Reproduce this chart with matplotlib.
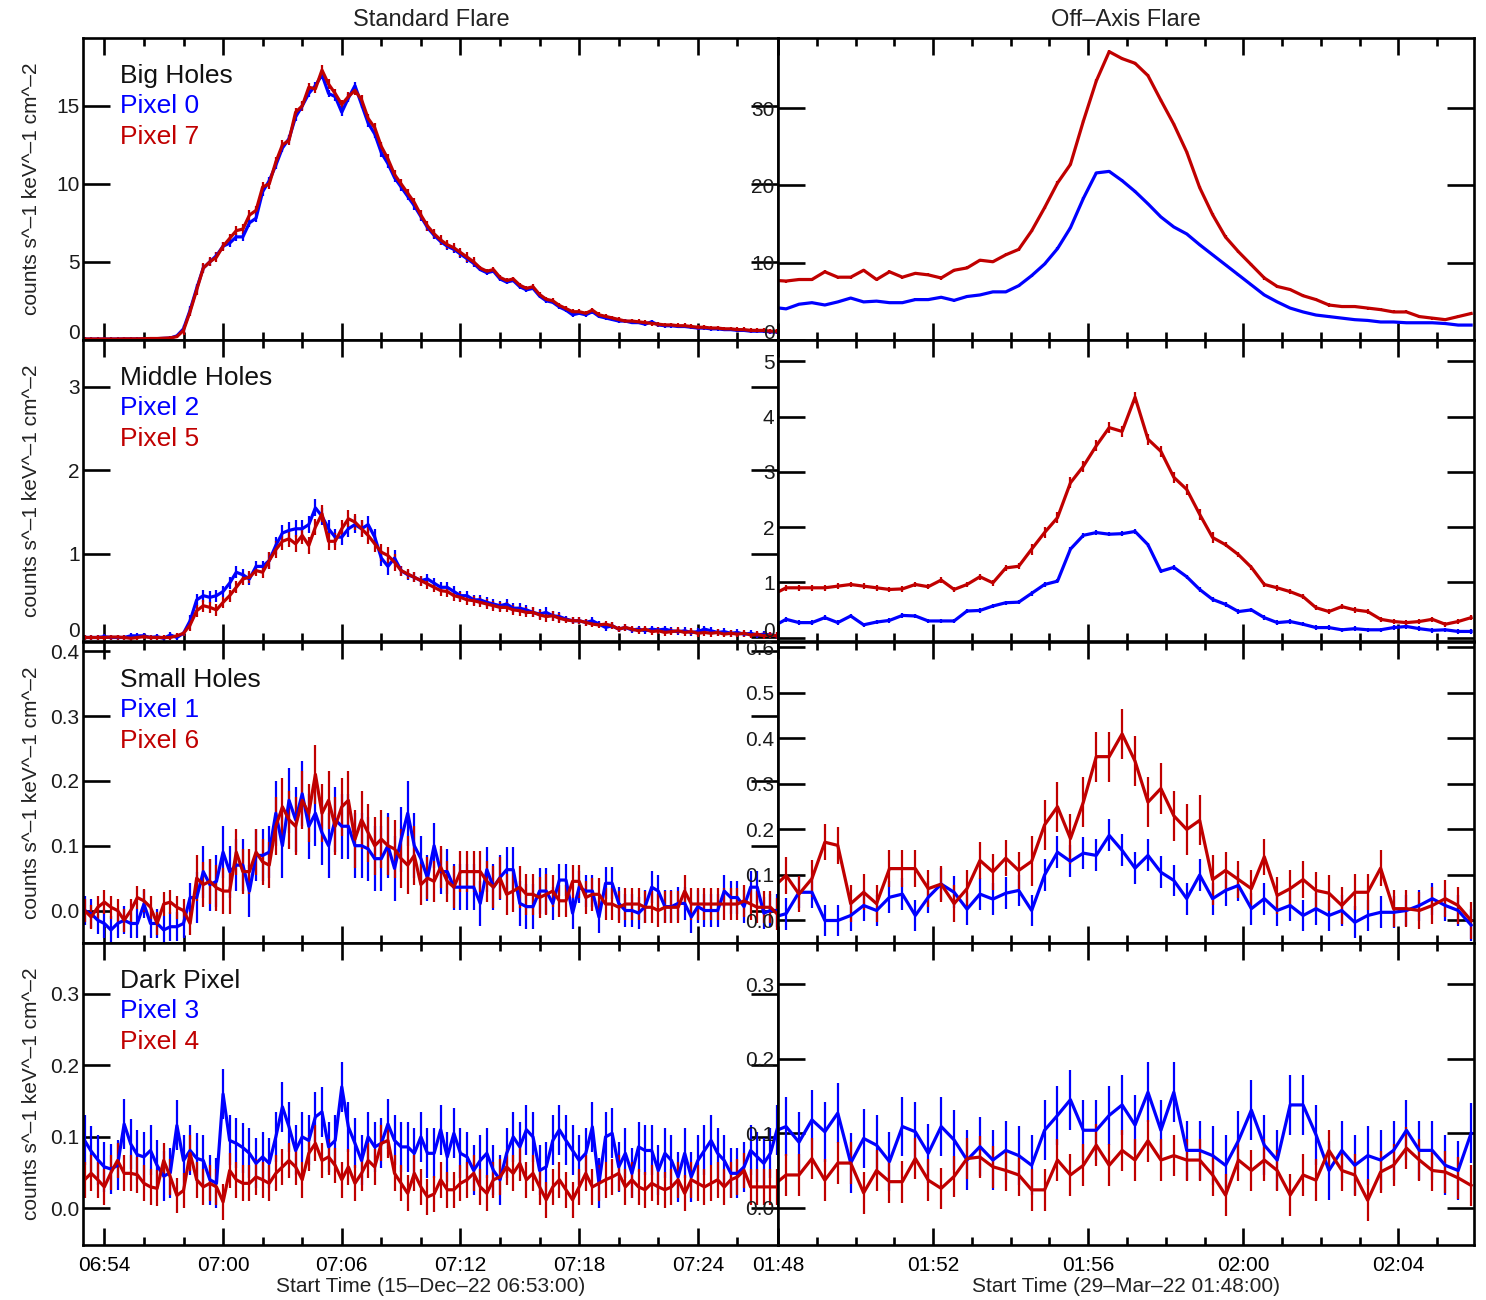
import numpy as np
import matplotlib
matplotlib.use("Agg")
import matplotlib.pyplot as plt

plt.rcParams['font.family'] = ['Liberation Sans', 'DejaVu Sans']

# ---------------- data ----------------
# Standard flare: 20 s bins, minutes since 06:53:00
n_std = 106
# Off-axis flare: 20 s bins, minutes since 01:48:00
n_off = 55

big0 = [0.04,0.04,0.04,0.04,0.04,0.04,0.05,0.05,0.05,0.06,0.07,0.07,0.09,0.11,
        0.25,0.7,1.9,3.3,4.6,5.0,5.4,6.0,6.2,6.6,6.6,7.5,7.8,9.5,10.2,11.2,
        12.3,12.9,14.3,15.0,15.8,16.3,17.0,15.8,15.6,14.6,15.5,16.3,15.1,13.9,13.2,12.0,
        11.3,10.4,9.8,9.2,8.6,7.9,7.2,6.7,6.3,6.0,5.8,5.5,5.2,4.9,4.5,4.3,4.4,3.9,
        3.7,3.8,3.4,3.2,3.3,2.8,2.5,2.4,2.1,1.9,1.6,1.7,1.6,1.8,1.5,1.4,1.3,1.2,
        1.2,1.1,1.1,1.0,1.15,0.95,0.9,0.9,0.85,0.85,0.8,0.75,0.75,0.7,0.7,0.65,0.65,0.6,
        0.6,0.55,0.55,0.55,0.5,0.5]
big7 = [0.05,0.05,0.05,0.05,0.05,0.05,0.06,0.06,0.06,0.07,0.08,0.08,0.10,0.12,
        0.2,0.6,1.8,3.2,4.6,5.0,5.3,6.0,6.5,7.0,
        7.1,8.0,8.3,9.8,10.0,11.4,12.5,12.8,14.6,15.0,
        16.2,16.1,17.3,16.4,15.8,15.1,15.6,16.0,15.4,14.2,
        13.6,12.4,11.6,10.6,10.0,9.4,8.8,8.0,7.3,6.8,
        6.4,6.1,5.9,5.6,5.3,5.0,4.6,4.4,4.5,4.0,
        3.8,3.9,3.5,3.3,3.4,2.9,2.6,2.5,2.2,2.0,
        1.8,1.8,1.7,1.9,1.6,1.5,1.4,1.3,1.2,1.2,
        1.15,1.1,1.05,1.0,0.95,0.95,0.9,0.9,0.85,0.8,
        0.8,0.75,0.75,0.7,0.7,0.65,0.65,0.6,0.6,0.6,
        0.55,0.55]
mid2 = [0.0,0.0,0.0,0.01,0.0,0.0,0.0,0.02,0.02,0.02,
        0.0,0.01,-0.01,0.03,0.0,0.05,0.2,0.45,0.5,0.48,
        0.5,0.55,0.65,0.78,0.75,0.7,0.85,0.85,0.92,1.1,
        1.25,1.28,1.3,1.3,1.35,1.55,1.45,1.3,1.2,1.2,
        1.3,1.35,1.3,1.35,1.2,0.95,0.85,0.95,0.8,0.75,
        0.72,0.68,0.7,0.65,0.6,0.6,0.55,0.5,0.5,0.45,
        0.45,0.42,0.4,0.38,0.4,0.35,0.35,0.33,0.3,0.28,
        0.3,0.26,0.25,0.22,0.2,0.2,0.18,0.2,0.16,0.12,
        0.14,0.1,0.12,0.09,0.1,0.08,0.1,0.09,0.1,0.08,
        0.07,0.08,0.06,0.07,0.1,0.08,0.06,0.07,0.05,0.06,
        0.04,0.05,0.03,0.04,0.03,0.02]
mid5 = [0.0,0.0,0.0,0.0,0.005,0.005,0.0,-0.01,0.0,0.01,
        0.0,0.0,0.0,0.0,0.02,0.05,0.15,0.32,0.38,0.36,
        0.33,0.42,0.5,0.6,0.7,0.72,0.8,0.78,0.92,1.05,
        1.15,1.18,1.12,1.22,1.1,1.32,1.48,1.15,1.15,1.3,
        1.42,1.38,1.3,1.22,1.12,1.02,0.98,0.9,0.8,0.76,
        0.72,0.68,0.64,0.6,0.56,0.55,0.5,0.48,0.45,0.44,
        0.42,0.4,0.38,0.36,0.36,0.33,0.32,0.3,0.3,0.27,
        0.25,0.26,0.23,0.21,0.2,0.2,0.18,0.16,0.15,0.16,
        0.14,0.1,0.12,0.1,0.08,0.1,0.07,0.08,0.06,0.07,
        0.08,0.06,0.07,0.05,0.06,0.05,0.06,0.04,0.05,0.04,
        0.05,0.03,0.04,0.02,0.03,0.02]
sm1 = [0.0,-0.005,-0.015,-0.02,-0.03,-0.02,-0.015,-0.02,-0.02,0.01,
       -0.02,-0.02,-0.03,-0.025,-0.025,-0.02,0.02,0.02,0.06,0.04,
       0.045,0.09,0.06,0.07,0.07,0.03,0.085,0.085,0.09,0.15,
       0.10,0.17,0.14,0.18,0.13,0.15,0.12,0.10,0.14,0.13,
       0.13,0.10,0.10,0.095,0.08,0.08,0.10,0.065,0.11,0.15,
       0.10,0.08,0.05,0.10,0.06,0.06,0.036,0.036,0.036,0.036,
       0.011,0.063,0.036,0.051,0.063,0.063,0.011,0.006,0.006,0.03,
       0.03,0.011,0.047,0.047,-0.004,0.036,0.03,0.03,-0.01,0.042,
       0.042,0.011,0.0,0.0,-0.004,0.006,0.036,0.03,0.006,0.006,
       0.011,0.011,-0.01,0.006,0.0,0.0,0.0,0.03,0.02,0.02,
       0.006,0.036,0.036,-0.004,0.0,0.0]
sm6 = [0.0,-0.01,0.005,0.013,0.005,0.0,-0.015,0.0,0.02,0.015,
       0.005,-0.02,0.01,0.013,0.005,0.0,-0.02,0.05,0.04,0.045,
       0.035,0.03,0.03,0.09,0.06,0.06,0.09,0.075,0.07,0.13,
       0.16,0.14,0.13,0.17,0.15,0.21,0.15,0.17,0.13,0.16,
       0.17,0.11,0.14,0.12,0.10,0.11,0.10,0.095,0.08,0.07,
       0.085,0.04,0.05,0.045,0.067,0.045,0.036,0.06,0.06,0.06,
       0.06,0.045,0.036,0.05,0.025,0.03,0.036,0.025,0.025,0.02,
       0.025,0.03,0.015,0.015,0.045,0.045,0.02,0.025,0.025,0.01,
       0.01,0.005,0.01,0.01,0.01,0.005,0.005,0.0,0.005,0.005,
       0.005,0.03,0.01,0.01,0.01,0.01,0.01,0.01,0.01,0.01,
       0.015,0.01,0.005,0.005,0.005,-0.005]
dk3 = [0.095,0.08,0.068,0.058,0.055,0.06,0.118,0.09,0.075,0.072,
       0.081,0.06,0.045,0.05,0.116,0.067,0.081,0.07,0.067,0.04,
       0.035,0.16,0.095,0.091,0.085,0.077,0.063,0.072,0.063,0.1,
       0.142,0.114,0.081,0.1,0.095,0.128,0.135,0.086,0.095,0.17,
       0.114,0.091,0.067,0.1,0.086,0.091,0.118,0.095,0.086,0.086,
       0.077,0.1,0.077,0.077,0.11,0.072,0.105,0.077,0.072,0.053,
       0.067,0.077,0.053,0.04,0.077,0.1,0.086,0.11,0.1,0.053,
       0.058,0.095,0.11,0.095,0.081,0.067,0.077,0.114,0.035,0.1,
       0.105,0.058,0.077,0.049,0.086,0.081,0.081,0.053,0.077,0.067,
       0.044,0.077,0.044,0.067,0.081,0.095,0.077,0.067,0.049,0.049,
       0.058,0.081,0.072,0.063,0.077,0.11]
dk4 = [0.04,0.049,0.04,0.03,0.05,0.067,0.049,0.049,0.047,0.035,
       0.03,0.028,0.067,0.044,0.018,0.025,0.077,0.04,0.03,0.035,
       0.03,0.009,0.053,0.04,0.035,0.035,0.044,0.04,0.035,0.049,
       0.058,0.067,0.058,0.04,0.077,0.091,0.067,0.072,0.06,0.04,
       0.058,0.035,0.049,0.067,0.058,0.091,0.095,0.049,0.035,0.021,
       0.049,0.03,0.016,0.02,0.04,0.026,0.026,0.035,0.04,0.049,
       0.03,0.021,0.04,0.044,0.058,0.049,0.063,0.04,0.049,0.03,
       0.012,0.03,0.04,0.026,0.012,0.03,0.049,0.03,0.035,0.04,
       0.044,0.049,0.03,0.04,0.03,0.026,0.035,0.03,0.026,0.03,
       0.04,0.021,0.04,0.035,0.03,0.035,0.04,0.03,0.04,0.044,
       0.053,0.03,0.03,0.03,0.03,0.03]

ob0 = [4.2,4.0,4.6,4.8,4.5,4.9,5.4,4.9,5.0,4.8,
       4.8,5.2,5.2,5.5,5.1,5.6,5.8,6.2,6.2,7.0,
       8.3,9.8,11.8,14.5,18.3,21.6,21.8,20.6,19.2,17.6,
       15.9,14.6,13.7,12.3,11.0,9.7,8.4,7.1,5.8,4.9,
       4.1,3.6,3.2,3.0,2.8,2.6,2.5,2.3,2.3,2.2,
       2.2,2.2,2.1,1.9,1.9]
ob7 = [7.7,7.6,7.8,7.8,8.8,8.1,8.1,9.0,7.8,8.8,
       8.1,8.6,8.4,8.0,9.0,9.3,10.3,10.1,11.0,11.7,
       14.1,17.1,20.3,22.7,28.3,33.5,37.3,36.4,35.8,34.2,
       31.0,27.9,24.3,19.7,16.2,13.3,11.4,9.7,8.0,6.9,
       6.5,5.7,5.2,4.5,4.3,4.3,4.1,3.9,3.6,3.6,
       3.0,2.8,2.6,3.0,3.4]
mb2 = [0.2,0.33,0.27,0.27,0.36,0.27,0.39,0.23,0.28,0.31,
       0.40,0.39,0.30,0.30,0.30,0.48,0.49,0.57,0.63,0.64,
       0.8,0.96,1.02,1.6,1.85,1.9,1.87,1.88,1.92,1.68,
       1.2,1.27,1.1,0.87,0.69,0.6,0.47,0.5,0.36,0.27,
       0.29,0.24,0.18,0.18,0.14,0.16,0.14,0.14,0.18,0.2,
       0.16,0.13,0.14,0.11,0.11]
mb5 = [0.78,0.90,0.90,0.90,0.90,0.93,0.96,0.93,0.90,0.87,
       0.88,0.96,0.92,1.04,0.87,0.96,1.10,0.99,1.26,1.29,
       1.6,1.9,2.17,2.8,3.1,3.47,3.8,3.73,4.35,3.59,
       3.37,2.9,2.68,2.23,1.81,1.68,1.5,1.27,0.96,0.9,
       0.83,0.74,0.54,0.47,0.56,0.5,0.47,0.33,0.29,0.27,
       0.29,0.33,0.24,0.29,0.36]
sb1 = [0.007,0.015,0.062,0.062,0.0,0.0,0.011,0.033,0.022,0.051,
       0.058,0.011,0.051,0.08,0.062,0.025,0.058,0.047,0.06,0.066,
       0.022,0.1,0.15,0.13,0.148,0.143,0.187,0.154,0.115,0.143,
       0.106,0.088,0.048,0.1,0.048,0.066,0.077,0.026,0.048,0.022,
       0.033,0.011,0.026,0.011,0.022,-0.004,0.011,0.018,0.018,0.022,
       0.033,0.048,0.033,0.022,-0.01]
sb6 = [0.073,0.099,0.058,0.092,0.172,0.165,0.037,0.062,0.037,0.114,
       0.114,0.114,0.07,0.08,0.037,0.07,0.132,0.107,0.137,0.11,
       0.13,0.21,0.25,0.18,0.26,0.36,0.36,0.41,0.35,0.26,
       0.29,0.23,0.2,0.22,0.09,0.11,0.09,0.07,0.14,0.055,
       0.07,0.09,0.066,0.06,0.033,0.062,0.062,0.115,0.026,0.026,
       0.022,0.033,0.048,0.033,0.0]
db3 = [0.102,0.109,0.088,0.118,0.102,0.127,0.06,0.093,0.084,0.062,
       0.109,0.102,0.073,0.109,0.091,0.064,0.082,0.064,0.077,0.07,
       0.057,0.104,0.124,0.145,0.104,0.104,0.124,0.138,0.111,0.155,
       0.104,0.155,0.077,0.077,0.07,0.057,0.09,0.131,0.084,0.064,
       0.138,0.138,0.098,0.05,0.077,0.057,0.07,0.064,0.077,0.104,
       0.077,0.077,0.057,0.05,0.1]
db4 = [0.03,0.044,0.044,0.066,0.037,0.06,0.06,0.02,0.05,0.035,
       0.035,0.066,0.037,0.026,0.042,0.066,0.068,0.055,0.05,0.044,
       0.024,0.024,0.064,0.044,0.057,0.084,0.057,0.077,0.064,0.09,
       0.064,0.07,0.064,0.064,0.044,0.017,0.064,0.05,0.064,0.05,
       0.017,0.044,0.037,0.077,0.05,0.044,0.01,0.048,0.057,0.08,
       0.064,0.05,0.048,0.04,0.03]

# error bars (run-length form)
e_big0 = [0.08]*15 + [0.25]*45 + [0.12]*46
e_big7 = [0.1]*15 + [0.3]*45 + [0.15]*46
e_mid2 = [0.03]*16 + [0.07]*12 + [0.1]*20 + [0.06]*25 + [0.04]*33
e_mid5 = [0.03]*16 + [0.07]*12 + [0.1]*20 + [0.06]*25 + [0.04]*33
e_sm1 = [0.022]*17 + [0.04]*12 + [0.05]*22 + [0.035]*20 + [0.025]*35
e_sm6 = [0.018]*17 + [0.035]*12 + [0.045]*22 + [0.032]*20 + [0.025]*35
e_dk3 = [0.035]*106
e_dk4 = [0.025]*106
e_ob0 = [0.15]*55
e_ob7 = [0.2]*55
e_mb2 = [0.04]*55
e_mb5 = [0.05]*20 + [0.1]*15 + [0.05]*20
e_sb1 = [0.035]*55
e_sb6 = [0.04]*20 + [0.055]*15 + [0.04]*20
e_db3 = [0.04]*55
e_db4 = [0.028]*55

row_titles = ["Big Holes", "Middle Holes", "Small Holes", "Dark Pixel"]
blue_labels = ["Pixel 0", "Pixel 2", "Pixel 1", "Pixel 3"]
red_labels = ["Pixel 7", "Pixel 5", "Pixel 6", "Pixel 4"]

std_ticks = [1, 7, 13, 19, 25, 31]
std_ticklabels = ["06:54", "07:00", "07:06", "07:12", "07:18", "07:24"]
off_ticks = [0, 4, 8, 12, 16]
off_ticklabels = ["01:48", "01:52", "01:56", "02:00", "02:04"]

left_yticks = [[0, 5, 10, 15], [0, 1, 2, 3], [0.0, 0.1, 0.2, 0.3, 0.4], [0.0, 0.1, 0.2, 0.3]]
left_yfmt = ["%d", "%d", "%.1f", "%.1f"]
right_yticks = [[0, 10, 20, 30], [0, 1, 2, 3, 4, 5], [0.0, 0.1, 0.2, 0.3, 0.4, 0.5, 0.6], [0.0, 0.1, 0.2, 0.3]]
right_yfmt = ["%d", "%d", "%.1f", "%.1f"]
left_ylim = [(0, 19.36), (-0.048, 3.56), (-0.0505, 0.415), (-0.0513, 0.371)]
right_ylim = [(0, 39.07), (-0.072, 5.39), (-0.05, 0.613), (-0.05, 0.355)]

left_series = [(big0, e_big0, big7, e_big7), (mid2, e_mid2, mid5, e_mid5),
               (sm1, e_sm1, sm6, e_sm6), (dk3, e_dk3, dk4, e_dk4)]
right_series = [(ob0, e_ob0, ob7, e_ob7), (mb2, e_mb2, mb5, e_mb5),
                (sb1, e_sb1, sb6, e_sb6), (db3, e_db3, db4, e_db4)]

t_std = np.arange(n_std) / 3.0
t_off = -0.125 + np.arange(n_off) / 3.0

BLUE = '#0000ff'
RED = '#c00000'
FS = 15
LABC = '#1a1a1a'

W, H = 1486, 1300
fig = plt.figure(figsize=(W / 100, H / 100), dpi=100)

top0 = 38
rowh = (1245 - 38) / 4.0
lx0, lx1 = 83, 778
rx0, rx1 = 778, 1474


def style(ax):
    for s in ax.spines.values():
        s.set_linewidth(1.9)
        s.set_color('black')
        s.set_zorder(5)
    ax.tick_params(which='both', direction='in', top=True, right=True,
                   colors='black', labelsize=FS, width=1.9)
    ax.tick_params(axis='y', which='major', length=19.5, pad=2.5, labelcolor=LABC)
    ax.tick_params(axis='x', which='major', length=12, pad=8)
    ax.tick_params(axis='x', which='minor', length=6)
    ax.tick_params(axis='y', which='minor', left=False, right=False)


def set_y(ax, ticks, fmt, raise_zero):
    ax.set_yticks(ticks)
    labs = [fmt % v for v in ticks]
    if raise_zero:
        # the bottom "0" label sits a little above its tick, as in the original
        labs[0] = ''
        ax.annotate(fmt % ticks[0], xy=(0, ticks[0]), xycoords=('axes fraction', 'data'),
                    xytext=(-2.5, 4.5), textcoords='offset points', ha='right', va='center',
                    fontsize=FS, color=LABC, annotation_clip=False)
    ax.set_yticklabels(labs)


for i in range(4):
    ytop = top0 + i * rowh
    bottom = 1 - (ytop + rowh) / H
    hfrac = rowh / H
    axl = fig.add_axes([lx0 / W, bottom, (lx1 - lx0) / W, hfrac])
    axr = fig.add_axes([rx0 / W, bottom, (rx1 - rx0) / W, hfrac])

    b, eb, r, er = left_series[i]
    axl.errorbar(t_std, b, yerr=eb, color=BLUE, lw=2.3, elinewidth=1.6, capsize=0)
    axl.errorbar(t_std, r, yerr=er, color=RED, lw=2.3, elinewidth=1.6, capsize=0)
    b, eb, r, er = right_series[i]
    axr.errorbar(t_off, b, yerr=eb, color=BLUE, lw=2.3, elinewidth=1.6, capsize=0)
    axr.errorbar(t_off, r, yerr=er, color=RED, lw=2.3, elinewidth=1.6, capsize=0)

    axl.set_xlim(-0.08, 35.05)
    axr.set_xlim(0, 17.95)
    axl.set_ylim(*left_ylim[i])
    axr.set_ylim(*right_ylim[i])

    axl.set_xticks(std_ticks)
    axl.set_xticks(np.arange(3, 35, 2), minor=True)
    axr.set_xticks(off_ticks)
    axr.set_xticks(np.arange(1, 18, 1), minor=True)

    set_y(axl, left_yticks[i], left_yfmt[i], i < 2)
    set_y(axr, right_yticks[i], right_yfmt[i], i < 2)

    for ax in (axl, axr):
        style(ax)

    if i == 3:
        axl.set_xticklabels(std_ticklabels)
        axr.set_xticklabels(off_ticklabels)
    else:
        axl.set_xticklabels([])
        axr.set_xticklabels([])

    # annotations
    xa = (120 - lx0) / (lx1 - lx0)
    axl.text(xa, 1 - 38 / rowh, row_titles[i], transform=axl.transAxes,
             fontsize=19, color='#111111', va='center', ha='left')
    axl.text(xa, 1 - 68 / rowh, blue_labels[i], transform=axl.transAxes,
             fontsize=19, color=BLUE, va='center', ha='left')
    axl.text(xa, 1 - 99 / rowh, red_labels[i], transform=axl.transAxes,
             fontsize=19, color=RED, va='center', ha='left')

    # y label
    fig.text(32 / W, 1 - (ytop + rowh / 2) / H, "counts s^\u20131 keV^\u20131 cm^\u20132",
             rotation=90, ha='center', va='center', fontsize=FS, color='#222222')

fig.text(431 / W, 1 - 20 / H, "Standard Flare", ha='center', va='center', fontsize=17, color='#222222')
fig.text(1126 / W, 1 - 20 / H, "Off\u2013Axis Flare", ha='center', va='center', fontsize=17, color='#222222')
fig.text(431 / W, 1 - 1287 / H, "Start Time (15\u2013Dec\u201322 06:53:00)", ha='center', va='center',
         fontsize=FS, color='#222222')
fig.text(1126 / W, 1 - 1287 / H, "Start Time (29\u2013Mar\u201322 01:48:00)", ha='center', va='center',
         fontsize=FS, color='#222222')

fig.savefig("out.png", dpi=100, facecolor='white')
